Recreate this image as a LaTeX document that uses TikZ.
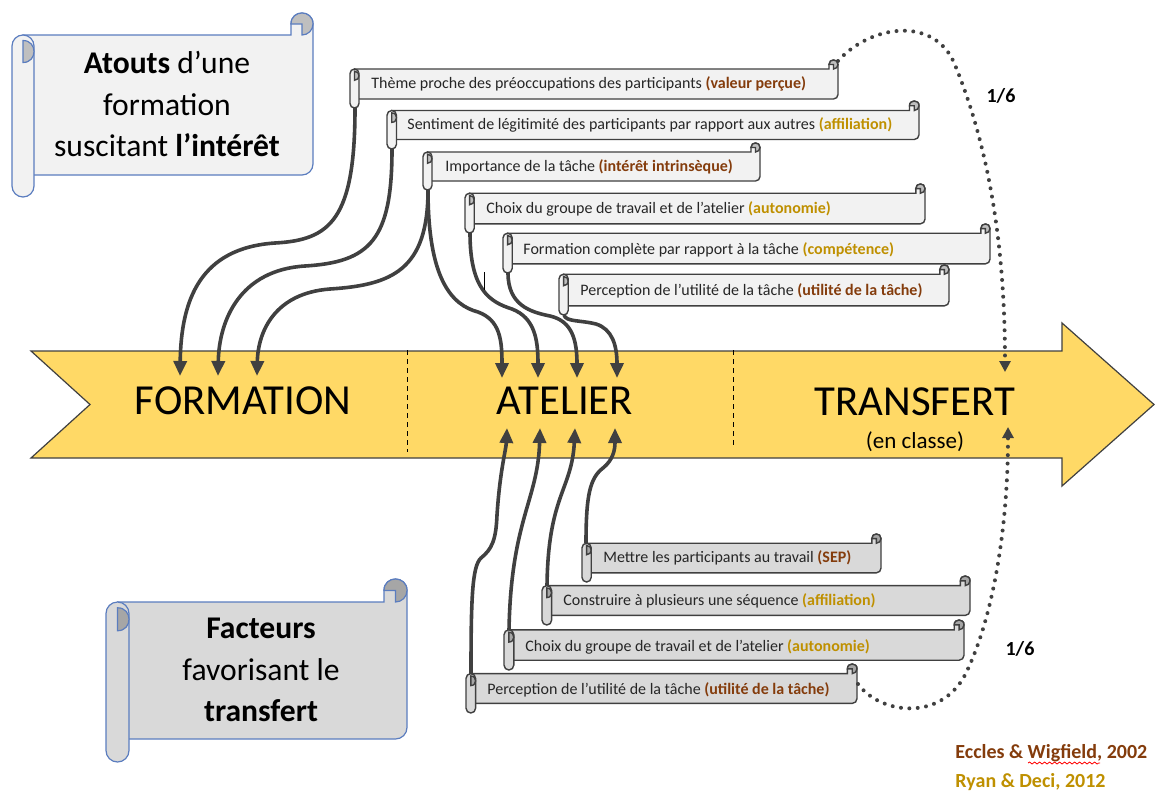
\documentclass[tikz,border=0pt]{standalone}
\usepackage{fontspec}
\setmainfont{Carlito}
\usetikzlibrary{arrows.meta,decorations.pathmorphing}
\definecolor{arrowyellow}{HTML}{FFD966}
\definecolor{dk}{HTML}{404040}
\definecolor{txt}{HTML}{262626}
\definecolor{brn}{HTML}{843C0C}
\definecolor{gld}{HTML}{BF9000}
\definecolor{scrollblue}{HTML}{5B7DBF}
\definecolor{lightfill}{HTML}{F2F2F2}
\definecolor{midfill}{HTML}{D9D9D9}
\definecolor{curlA}{HTML}{BFBFBF}
\definecolor{curlB}{HTML}{A6A6A6}
\newcommand\br[1]{\textbf{\color{brn}#1}}
\newcommand\gd[1]{\textbf{\color{gld}#1}}
% scroll: L T R B r fill curlfill strokestyle
\newcommand\drawscroll[8]{%
 \pgfmathsetmacro\zA{#1+#5}%
 \pgfmathsetmacro\zB{#1+2*#5}%
 \pgfmathsetmacro\zC{#3-2*#5}%
 \pgfmathsetmacro\zD{#3-#5}%
 \pgfmathsetmacro\zE{#2+#5}%
 \pgfmathsetmacro\zF{#2+2*#5}%
 \pgfmathsetmacro\zG{#4-2*#5}%
 \pgfmathsetmacro\zH{#2-#5/3}%
 \pgfmathsetmacro\zI{#2+#5+0.552*#5}%
 \pgfmathsetmacro\zJ{#3-0.448*#5}%
 \pgfmathsetmacro\zK{#5*0.5}%
 \pgfmathsetmacro\zM{\zF+0.5*#5}%
 \pgfmathsetmacro\zN{\zF+2.5*#5}%
 \pgfmathsetmacro\zO{#1+2.333*#5}%
 \path[#8, fill=#6] (\zA,\zF) -- (\zC,\zF) -- (\zC,\zE) .. controls (\zC,\zH) and (#3,\zH) .. (#3,\zE) [rounded corners=\zK pt] -- (#3,\zG) -- (\zA,\zG) [sharp corners] -- cycle;
 \path[#8, fill=#7] (\zC,\zE) .. controls (\zC,\zH) and (#3,\zH) .. (#3,\zE) .. controls (#3,\zI) and (\zJ,\zF) .. (\zD,\zF) -- (\zD,\zE) -- cycle;
 \path[#8, fill=#6, rounded corners=\zK pt] (#1,\zF) rectangle (\zB,#4);
 \path[#8, fill=#7] (\zA,\zM) .. controls (\zO,\zM) and (\zO,\zN) .. (\zA,\zN) -- cycle;
}
\begin{document}
\begin{tikzpicture}[x=0.5pt,y=-0.5pt,
  bigtext/.style={inner sep=0pt, font=\fontsize{21.4}{24}\selectfont},
  boxtext/.style={anchor=west, inner sep=0pt, text=txt, font=\fontsize{8.0}{9.5}\selectfont},
  titletext/.style={inner sep=0pt, align=center, font=\fontsize{15.8}{20.8}\selectfont},
  reftext/.style={anchor=west, inner sep=0pt, font=\bfseries\fontsize{10}{12}\selectfont},
  fractext/.style={inner sep=0pt, font=\bfseries\fontsize{10}{12}\selectfont},
  conn/.style={draw=dk, line width=1.8pt, -{Triangle[length=7.5pt,width=6.5pt]}},
  dotc/.style={draw=dk, line width=2pt, line cap=round, dash pattern=on 0pt off 4.2pt, -{Triangle[length=5.5pt,width=5.5pt]}},
  sepline/.style={draw=black, line width=0.5pt, dash pattern=on 2.5pt off 2pt},
  smallA/.style={draw=dk, line width=0.7pt},
  bigA/.style={draw=scrollblue, line width=0.6pt}]
\useasboundingbox (0,0) rectangle (1161,793);
\fill[white] (0,0) rectangle (1161,793);

% main arrow
\path[draw=dk, line width=0.6pt, fill=arrowyellow] (31,351) -- (1062,351) -- (1062,323) -- (1154,404.5) -- (1062,486) -- (1062,458) -- (31,458) -- (90,404.5) -- cycle;
\draw[sepline] (407,350) -- (407,452);
\draw[sepline] (733,350) -- (733,447);

\node[bigtext] (formation) at (243,400.5) {FORMATION};
\node[bigtext] (atelier) at (565,400.5) {ATELIER};
\node[bigtext] (transfert) at (915,401.5) {TRANSFERT};
\node[inner sep=0pt, font=\fontsize{11.5}{13}\selectfont] (enclasse) at (915,442) {(en classe)};

% big scrolls
\drawscroll{12}{13}{313}{197}{11}{lightfill}{curlA}{bigA}
\drawscroll{106}{579}{407}{762}{11.5}{midfill}{curlB}{bigA}
\node[titletext] (atouts) at (167,104) {\textbf{Atouts} d’une\\formation\\suscitant \textbf{l’intérêt}};
\node[titletext] (facteurs) at (261,670) {\textbf{Facteurs}\\favorisant le\\\textbf{transfert}};

% top small scrolls
\drawscroll{350}{60}{838}{108}{4.5}{lightfill}{curlA}{smallA}
\drawscroll{387}{101}{919}{149}{4.75}{lightfill}{curlA}{smallA}
\drawscroll{423}{143}{760}{190}{4.5}{lightfill}{curlA}{smallA}
\drawscroll{465}{184}{925}{233}{4.6}{lightfill}{curlA}{smallA}
\drawscroll{503}{224}{990}{273}{4.6}{lightfill}{curlA}{smallA}
\drawscroll{559}{265}{949}{315}{4.6}{lightfill}{curlA}{smallA}
\node[boxtext] (t1) at (371,83.5) {Thème proche des préoccupations des participants \br{(valeur perçue)}};
\node[boxtext] (t2) at (407,125) {Sentiment de légitimité des participants par rapport aux autres \gd{(affiliation)}};
\node[boxtext] (t3) at (445,167) {Importance de la tâche \br{(intérêt intrinsèque)}};
\node[boxtext] (t4) at (486,209) {Choix du groupe de travail et de l’atelier \gd{(autonomie)}};
\node[boxtext] (t5) at (523,249.5) {Formation complète par rapport à la tâche \gd{(compétence)}};
\node[boxtext] (t6) at (580,291) {Perception de l’utilité de la tâche \br{(utilité de la tâche)}};

% bottom small scrolls
\drawscroll{582}{534}{881}{582}{4.6}{midfill}{curlB}{smallA}
\drawscroll{542}{576}{970}{625}{4.8}{midfill}{curlB}{smallA}
\drawscroll{504}{620}{964}{670}{4.9}{midfill}{curlB}{smallA}
\drawscroll{466}{664}{857}{713}{4.8}{midfill}{curlB}{smallA}
\node[boxtext] (u1) at (603,558) {Mettre les participants au travail \br{(SEP)}};
\node[boxtext] (u2) at (563,601) {Construire à plusieurs une séquence \gd{(affiliation)}};
\node[boxtext] (u3) at (525,646.5) {Choix du groupe de travail et de l’atelier \gd{(autonomie)}};
\node[boxtext] (u4) at (487,690) {Perception de l’utilité de la tâche \br{(utilité de la tâche)}};

% connector end points
\coordinate (r1) at (355,108);
\coordinate (r2) at (392,149);
\coordinate (r3) at (428,190);
\coordinate (r4) at (470,233);
\coordinate (r5) at (508,273);
\coordinate (r6) at (564,315);
\coordinate (fa1) at (180,376);
\coordinate (fa2) at (218,376);
\coordinate (fa3) at (257,376);
\coordinate (at1) at (502,378);
\coordinate (at2) at (538,378);
\coordinate (at3) at (577,378);
\coordinate (at4) at (617,378);
\coordinate (b1) at (586,543);
\coordinate (b2) at (547,586);
\coordinate (b3) at (509,630);
\coordinate (b4) at (471,674);
\coordinate (ab1) at (507,428);
\coordinate (ab2) at (540,428);
\coordinate (ab3) at (575,428);
\coordinate (ab4) at (615,428);
\coordinate (s1) at (838,61);
\coordinate (dt) at (1005,372);
\coordinate (s2) at (858,684);
\coordinate (db) at (1008,427);
\coordinate (m1) at (484,272);
\coordinate (m2) at (484,290);

% connectors to FORMATION
\draw[conn] (r1) .. controls (355,220) and (330,240) .. (275,243) .. controls (200,248) and (181,300) .. (fa1);
\draw[conn] (r2) .. controls (392,240) and (370,262) .. (305,266) .. controls (240,270) and (219,320) .. (fa2);
\draw[conn] (r3) .. controls (428,270) and (392,285) .. (330,289) .. controls (276,293) and (258,330) .. (fa3);
% connectors to ATELIER from above
\draw[conn] (r3) .. controls (428,280) and (452,305) .. (478,312) .. controls (500,320) and (502,340) .. (at1);
\draw[conn] (r4) .. controls (470,290) and (490,302) .. (512,309) .. controls (535,318) and (538,340) .. (at2);
\draw[conn] (r5) .. controls (508,305) and (530,312) .. (550,316) .. controls (572,321) and (577,340) .. (at3);
\draw[conn] (r6) .. controls (566,322) and (580,320) .. (596,324) .. controls (612,329) and (617,345) .. (at4);
\draw[line width=0.5pt] (m1) -- (m2);
% connectors to ATELIER from below
\draw[conn] (b1) .. controls (586,495) and (590,478) .. (603,468) .. controls (613,460) and (615,450) .. (ab4);
\draw[conn] (b2) .. controls (548,495) and (572,490) .. (ab3);
\draw[conn] (b3) .. controls (511,520) and (538,500) .. (ab2);
\draw[conn] (b4) .. controls (471,600) and (472,566) .. (481,558) .. controls (492,549) and (496,540) .. (497,515) .. controls (500,470) and (506,450) .. (ab1);

% dotted to TRANSFERT
\draw[dotc] (s1) .. controls (870,25) and (935,15) .. (955,65) .. controls (990,150) and (1005,250) .. (dt);
\draw[dotc] (s2) .. controls (880,714) and (940,722) .. (965,675) .. controls (995,615) and (1008,520) .. (db);
\node[fractext] (q1) at (1001,96) {1/6};
\node[fractext] (q2) at (1020,649) {1/6};

% references
\node[reftext, text=brn] (ref1) at (955,753) {Eccles \& Wigfield, 2002};
\node[reftext, text=gld] (ref2) at (955,782) {Ryan \& Deci, 2012};
\draw[red, line width=0.4pt, decorate, decoration={snake, amplitude=0.5pt, segment length=2.5pt}] (1028,763) -- (1100,763);
\end{tikzpicture}
\end{document}
